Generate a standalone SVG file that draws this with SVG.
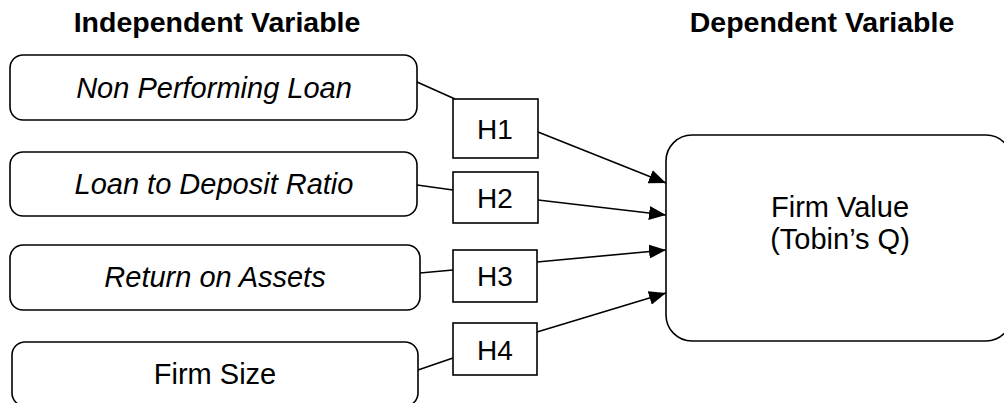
<svg xmlns="http://www.w3.org/2000/svg" width="1004" height="403" viewBox="0 0 1004 403">
<style>
text{font-family:"Liberation Sans",Arial,sans-serif;fill:#000;}
.t{font-size:28.5px;font-weight:bold;text-anchor:middle;}
.n{font-size:29px;text-anchor:middle;}
.h{font-size:28px;text-anchor:middle;}
.i{font-style:italic;}
.box{fill:#fff;stroke:#000;stroke-width:1.6;}
.c{fill:none;stroke:#000;stroke-width:1.6;}
</style>
<defs>
<marker id="ah" markerUnits="userSpaceOnUse" markerWidth="18" markerHeight="14" refX="17" refY="7" orient="auto">
<path d="M0,0 L17,7 L0,14 z" fill="#000"/>
</marker>
</defs>
<text class="t" x="217" y="32">Independent Variable</text>
<text class="t" x="822" y="32">Dependent Variable</text>
<g id="connectors">
<line class="c" x1="417" y1="82" x2="455" y2="99"/>
<line class="c" x1="538" y1="132" x2="666" y2="183" marker-end="url(#ah)"/>
<line class="c" x1="417" y1="185" x2="453" y2="190"/>
<line class="c" x1="538" y1="200" x2="666" y2="215" marker-end="url(#ah)"/>
<line class="c" x1="420" y1="273" x2="453" y2="270"/>
<line class="c" x1="537" y1="262" x2="666" y2="250" marker-end="url(#ah)"/>
<line class="c" x1="418" y1="370" x2="453" y2="358"/>
<line class="c" x1="537" y1="332" x2="666" y2="293" marker-end="url(#ah)"/>
</g>
<g id="npl">
<rect class="box" x="10" y="55" width="407" height="65" rx="13"/>
<text class="n i" x="214" y="98">Non Performing Loan</text>
</g>
<g id="ldr">
<rect class="box" x="10" y="152" width="407" height="64" rx="13"/>
<text class="n i" x="214" y="194">Loan to Deposit Ratio</text>
</g>
<g id="roa">
<rect class="box" x="10" y="245" width="410" height="65" rx="13"/>
<text class="n i" x="215" y="287">Return on Assets</text>
</g>
<g id="size">
<rect class="box" x="12" y="342" width="406" height="64" rx="13"/>
<text class="n" x="215" y="384">Firm Size</text>
</g>
<g id="h1">
<rect class="box" x="453" y="99" width="85" height="59"/>
<text class="h" x="495" y="139">H1</text>
</g>
<g id="h2">
<rect class="box" x="453" y="172" width="85" height="51"/>
<text class="h" x="495" y="208">H2</text>
</g>
<g id="h3">
<rect class="box" x="453" y="250" width="84" height="52"/>
<text class="h" x="495" y="286">H3</text>
</g>
<g id="h4">
<rect class="box" x="453" y="323" width="84" height="52"/>
<text class="h" x="495" y="360">H4</text>
</g>
<g id="firmvalue">
<rect class="box" x="666" y="135" width="346" height="206" rx="26"/>
<text class="n" x="840" y="217">Firm Value</text>
<text class="n" x="840" y="249">(Tobin’s Q)</text>
</g>
</svg>
